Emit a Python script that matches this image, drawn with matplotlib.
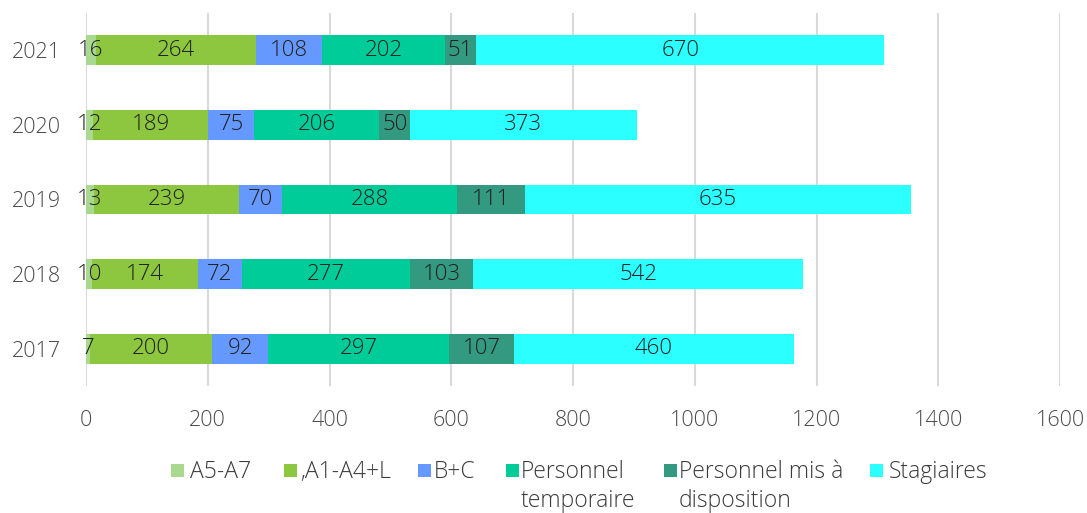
import matplotlib
matplotlib.use("Agg")
import matplotlib.pyplot as plt
from matplotlib.patches import Rectangle

# Staff counts per year and category
years = ["2017", "2018", "2019", "2020", "2021"]
categories = ["A5-A7", ",A1-A4+L", "B+C", "Personnel temporaire",
              "Personnel mis à disposition", "Stagiaires"]
a5_a7 = [7, 10, 13, 12, 16]
a1_a4_l = [200, 174, 239, 189, 264]
b_c = [92, 72, 70, 75, 108]
temporaire = [297, 277, 288, 206, 202]
mis_a_disposition = [107, 103, 111, 50, 51]
stagiaires = [460, 542, 635, 373, 670]
x_ticks = [0, 200, 400, 600, 800, 1000, 1200, 1400, 1600]

series = [a5_a7, a1_a4_l, b_c, temporaire, mis_a_disposition, stagiaires]
colors = ["#a9d98e", "#8dc63f", "#6699ff", "#00cc99", "#339980", "#2bffff"]
legend_lines = [["A5-A7"], [",A1-A4+L"], ["B+C"], ["Personnel", "temporaire"],
                ["Personnel mis à", "disposition"], ["Stagiaires"]]

FONT = "Open Sans"
W, H = 1087, 513
fig = plt.figure(figsize=(W / 100, H / 100), dpi=100)
ax = fig.add_axes([86 / W, 1 - 386 / H, (1060 - 86) / W, (386 - 13) / H])

ypos = list(range(len(years)))
left = [0] * len(years)
for vals, col in zip(series, colors):
    bars = ax.barh(ypos, vals, left=left, height=0.4, color=col, zorder=3)
    texts = ax.bar_label(bars, labels=[str(v) for v in vals], label_type="center",
                         fontsize=16, color="#1f1f1f", family=FONT,
                         fontweight="light")
    for t in texts:
        t.set_zorder(10)
    left = [l + v for l, v in zip(left, vals)]

ax.set_xlim(0, 1600)
ax.set_ylim(-0.5, 4.5)
ax.set_xticks(x_ticks)
ax.set_xticklabels([str(t) for t in x_ticks])
ax.set_yticks(ypos)
ax.set_yticklabels(years)
for lab in ax.get_xticklabels() + ax.get_yticklabels():
    lab.set_family(FONT)
    lab.set_fontsize(15.5)
    lab.set_color("#4a4a4a")
    lab.set_fontweight("light")
ax.tick_params(axis="both", length=0)
ax.tick_params(axis="x", pad=17)
ax.tick_params(axis="y", pad=18)
ax.grid(axis="x", color="#d9d9d9", linewidth=1.5, zorder=0)
ax.set_axisbelow(True)
for s in ax.spines.values():
    s.set_visible(False)

# Legend drawn in figure pixels, entries wrap onto a second line
sq_x = [171, 284, 418, 506, 664, 870]
txt_x = [190, 300, 434, 521, 679, 889]
for sx, tx, col, lines in zip(sq_x, txt_x, colors, legend_lines):
    fig.add_artist(Rectangle((sx / W, 1 - 477 / H), 13 / W, 13 / H,
                             transform=fig.transFigure, color=col, lw=0))
    for i, line in enumerate(lines):
        fig.text(tx / W, 1 - (478 + 29 * i) / H, line, ha="left", va="baseline",
                 fontsize=16.5, color="#3a3a3a", family=FONT, fontweight="light")

fig.savefig("out.png", dpi=100, facecolor="white")
